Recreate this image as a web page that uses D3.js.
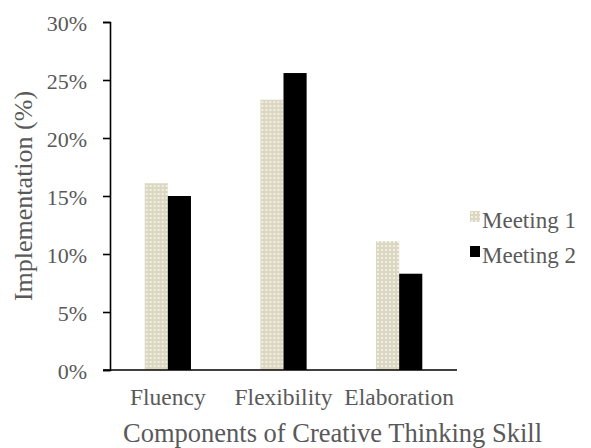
<!DOCTYPE html>
<html>
<head>
<meta charset="utf-8">
<script src="https://cdn.jsdelivr.net/npm/d3@7"></script>
<style>
  html, body { margin: 0; padding: 0; background: #ffffff; }
  svg { display: block; }
  text { font-family: "Liberation Serif", "Times New Roman", serif; fill: #595959; }
</style>
</head>
<body>
<svg id="chart" width="591" height="448"></svg>
<script>
// Components of creative thinking skill, implementation share per meeting
const categories = ["Fluency", "Flexibility", "Elaboration"];
const seriesNames = ["Meeting 1", "Meeting 2"];
const meeting1 = [0.161, 0.233, 0.111];
const meeting2 = [0.150, 0.256, 0.083];
const yTicks = [0, 0.05, 0.10, 0.15, 0.20, 0.25, 0.30];

const seriesValues = [meeting1, meeting2];

const svg = d3.select("#chart");
const plot = { left: 110, right: 457, top: 22, bottom: 370 };
const serif = '"Liberation Serif", "Times New Roman", serif';

// Dotted beige fill for the first meeting
const defs = svg.append("defs");
const pat = defs.append("pattern")
  .attr("id", "dots")
  .attr("patternUnits", "userSpaceOnUse")
  .attr("width", 4).attr("height", 4);
pat.append("rect").attr("width", 4).attr("height", 4).attr("fill", "#dbd7c1");
pat.append("rect").attr("x", 1).attr("y", 1).attr("width", 2).attr("height", 2).attr("fill", "#f1efe5");

const fills = ["url(#dots)", "#000000"];

const x0 = d3.scaleBand()
  .domain(categories)
  .range([plot.left, plot.right])
  .paddingInner(0.6)
  .paddingOuter(0.3);

const x1 = d3.scaleBand()
  .domain(seriesNames)
  .range([0, x0.bandwidth()]);

const y = d3.scaleLinear()
  .domain([0, 0.30])
  .range([plot.bottom, plot.top]);

// Bars
const groups = svg.append("g").selectAll("g")
  .data(categories)
  .join("g")
  .attr("transform", d => `translate(${x0(d)},0)`);

groups.selectAll("rect")
  .data((c, i) => seriesNames.map((s, j) => ({ series: s, value: seriesValues[j][i], j })))
  .join("rect")
  .attr("x", d => x1(d.series))
  .attr("width", x1.bandwidth())
  .attr("y", d => y(d.value))
  .attr("height", d => y(0) - y(d.value))
  .attr("fill", d => fills[d.j]);

// Y axis
const yAxis = svg.append("g")
  .attr("transform", `translate(${plot.left},0)`)
  .call(d3.axisLeft(y).tickValues(yTicks).tickFormat(d3.format(".0%")).tickSize(7).tickPadding(16));
yAxis.select(".domain").attr("stroke", "#000").attr("stroke-width", 1.6);
yAxis.selectAll(".tick line").attr("stroke", "#000").attr("stroke-width", 1.6);
yAxis.selectAll(".tick text")
  .attr("dy", "0.38em")
  .style("font-family", serif)
  .style("font-size", "22px")
  .attr("fill", "#595959");

// X axis
const xAxis = svg.append("g")
  .attr("transform", `translate(0,${plot.bottom})`)
  .call(d3.axisBottom(x0).tickSize(0).tickSizeOuter(0).tickPadding(18));
xAxis.select(".domain")
  .attr("d", `M${plot.left - 7},0H${plot.right}`)
  .attr("stroke", "#000").attr("stroke-width", 1.6);
xAxis.selectAll(".tick text")
  .style("font-family", serif)
  .style("font-size", "23.5px")
  .attr("fill", "#595959");

// Axis titles
svg.append("text")
  .attr("x", 123)
  .attr("y", 442)
  .attr("text-anchor", "start")
  .style("font-size", "26.5px")
  .text("Components of Creative Thinking Skill");

svg.append("text")
  .attr("transform", `translate(32,${(plot.top + plot.bottom) / 2}) rotate(-90)`)
  .attr("text-anchor", "middle")
  .style("font-size", "26px")
  .text("Implementation (%)");

// Legend
const legend = svg.append("g").selectAll("g")
  .data(seriesNames)
  .join("g")
  .attr("transform", (d, i) => `translate(470,${211 + i * 35})`);
legend.append("rect")
  .attr("width", 10).attr("height", 11)
  .attr("fill", (d, i) => fills[i]);
legend.append("text")
  .attr("x", 12).attr("y", 17)
  .style("font-size", "23px")
  .text(d => d);
</script>
</body>
</html>
